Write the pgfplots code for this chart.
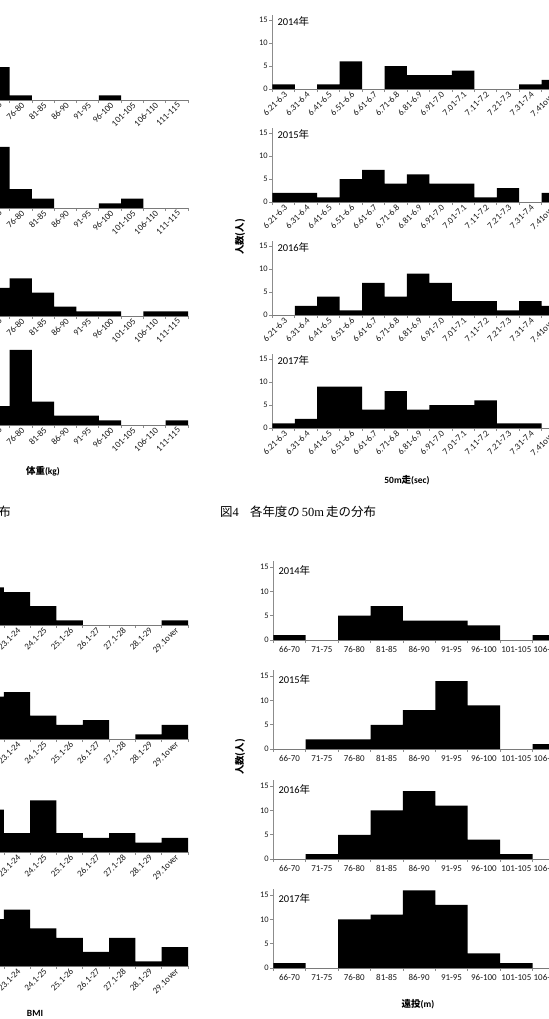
\documentclass[border=0pt]{standalone}
\usepackage{fontspec}
\setmainfont{Carlito}
\newfontfamily\cjk{Noto Sans CJK JP}
\newfontfamily\serifnum{Liberation Serif}
\usepackage{pgfplots}
\pgfplotsset{compat=1.18}

\definecolor{axgray}{gray}{0.55}

\tikzset{yearlab/.style={anchor=north west, inner sep=0pt, font=\fontsize{10.5}{11}\selectfont}}

\pgfplotsset{
  histo/.style={
    scale only axis,
    axis x line*=bottom, axis y line*=left,
    axis line style={draw=axgray, line width=0.7bp, -},
    tick style={draw=axgray, line width=0.7bp},
    tick align=outside, major tick length=3bp,
    ymin=0,
    xticklabels={},
    /pgf/number format/assume math mode=true,
    tick label style={text=black!90},
    yticklabel style={font=\fontsize{8.5}{9}\selectfont, inner sep=1.5bp},
    ytick={0,5,10,15},
  },
  rotlab/.style={
    extra x tick style={major tick length=0pt,
      xticklabel style={rotate=45, anchor=north east,
        font=\fontsize{9}{10}\selectfont, inner sep=1bp}},
  },
  flatlab/.style={
    extra x tick style={major tick length=0pt,
      xticklabel style={anchor=north,
        font=\fontsize{9}{10}\selectfont, inner sep=1bp, yshift=-5.5bp}},
  },
  % 50 m run bins
  runbins/.style={rotlab, width=291.8bp, height=73.6bp,
    xmin=0, xmax=13, ymax=16, xtick={0,...,13},
    extra x ticks={0.5,1.5,...,12.5},
    extra x tick labels={6.21-6.3,6.31-6.4,6.41-6.5,6.51-6.6,6.61-6.7,6.71-6.8,6.81-6.9,6.91-7.0,7.01-7.1,7.11-7.2,7.21-7.3,7.31-7.4,7.41over}},
  % throwing distance bins
  throwbins/.style={flatlab, width=291.6bp, height=78.6bp,
    xmin=0, xmax=9, ymax=16.2, xtick={0,...,9},
    extra x ticks={0.5,1.5,...,8.5},
    extra x tick labels={66-70,71-75,76-80,81-85,86-90,91-95,96-100,101-105,106-110}},
  % body weight bins
  wbins/.style={rotlab, width=290bp, height=79.9bp,
    xmin=-4, xmax=9, ymax=17, xtick={-4,...,9},
    extra x ticks={0.5,1.5,...,8.5},
    extra x tick labels={71-75,76-80,81-85,86-90,91-95,96-100,101-105,106-110,111-115}},
  % BMI bins
  bmibins/.style={rotlab, width=289.3bp, height=79.9bp,
    xmin=-3, xmax=8, ymax=17, xtick={-3,...,8},
    extra x ticks={0.5,1.5,...,7.5},
    extra x tick labels={22.1-23,23.1-24,24.1-25,25.1-26,26.1-27,27.1-28,28.1-29,29.1over}},
  bars/.style={const plot, fill=black, draw=none},
}

\newcommand{\yr}[1]{#1{\cjk 年}}

\begin{document}
\begin{tikzpicture}
\useasboundingbox (0,0) rectangle (549bp,-1019bp);
\clip (0,0) rectangle (549bp,-1019bp);

% ---------- body weight ----------
\begin{axis}[histo, wbins, at={(188bp,-100bp)}, anchor=south east]
\addplot[bars] coordinates {(0,7)(1,1)(2,0)(3,0)(4,0)(5,1)(6,0)(7,0)(8,0)(9,0)} \closedcycle;
\end{axis}
\begin{axis}[histo, wbins, at={(188bp,-208bp)}, anchor=south east]
\addplot[bars] coordinates {(0,13)(1,4)(2,2)(3,0)(4,0)(5,1)(6,2)(7,0)(8,0)(9,0)} \closedcycle;
\end{axis}
\begin{axis}[histo, wbins, at={(188bp,-316bp)}, anchor=south east]
\addplot[bars] coordinates {(0,6)(1,8)(2,5)(3,2)(4,1)(5,1)(6,0)(7,1)(8,1)(9,1)} \closedcycle;
\end{axis}
\begin{axis}[histo, wbins, at={(188bp,-425bp)}, anchor=south east]
\addplot[bars] coordinates {(0,4)(1,16)(2,5)(3,2)(4,2)(5,1)(6,0)(7,0)(8,1)(9,1)} \closedcycle;
\end{axis}

% ---------- BMI ----------
\begin{axis}[histo, bmibins, at={(188bp,-625bp)}, anchor=south east]
\addplot[bars] coordinates {(0,8)(1,7)(2,4)(3,1)(4,0)(5,0)(6,0)(7,1)(8,1)} \closedcycle;
\end{axis}
\begin{axis}[histo, bmibins, at={(188bp,-739bp)}, anchor=south east]
\addplot[bars] coordinates {(0,9)(1,10)(2,5)(3,3)(4,4)(5,0)(6,1)(7,3)(8,3)} \closedcycle;
\end{axis}
\begin{axis}[histo, bmibins, at={(188bp,-852bp)}, anchor=south east]
\addplot[bars] coordinates {(0,9)(1,4)(2,11)(3,4)(4,3)(5,4)(6,2)(7,3)(8,3)} \closedcycle;
\end{axis}
\begin{axis}[histo, bmibins, at={(188bp,-966bp)}, anchor=south east]
\addplot[bars] coordinates {(0,10)(1,12)(2,8)(3,6)(4,3)(5,6)(6,1)(7,4)(8,4)} \closedcycle;
\end{axis}

% ---------- 50 m run ----------
\begin{axis}[histo, runbins, at={(272.3bp,-89bp)}, anchor=south west]
\addplot[bars] coordinates {(0,1)(1,0)(2,1)(3,6)(4,0)(5,5)(6,3)(7,3)(8,4)(9,0)(10,0)(11,1)(12,2)(13,2)} \closedcycle;
\node[yearlab, xshift=5bp, yshift=-1bp] at (rel axis cs:0,1) {\yr{2014}};
\end{axis}
\begin{axis}[histo, runbins, at={(272.3bp,-202bp)}, anchor=south west]
\addplot[bars] coordinates {(0,2)(1,2)(2,1)(3,5)(4,7)(5,4)(6,6)(7,4)(8,4)(9,1)(10,3)(11,0)(12,2)(13,2)} \closedcycle;
\node[yearlab, xshift=5bp, yshift=-1bp] at (rel axis cs:0,1) {\yr{2015}};
\end{axis}
\begin{axis}[histo, runbins, at={(272.3bp,-315bp)}, anchor=south west]
\addplot[bars] coordinates {(0,0)(1,2)(2,4)(3,1)(4,7)(5,4)(6,9)(7,7)(8,3)(9,3)(10,1)(11,3)(12,2)(13,2)} \closedcycle;
\node[yearlab, xshift=5bp, yshift=-1bp] at (rel axis cs:0,1) {\yr{2016}};
\end{axis}
\begin{axis}[histo, runbins, at={(272.3bp,-428bp)}, anchor=south west]
\addplot[bars] coordinates {(0,1)(1,2)(2,9)(3,9)(4,4)(5,8)(6,4)(7,5)(8,5)(9,6)(10,1)(11,1)(12,0)(13,0)} \closedcycle;
\node[yearlab, xshift=5bp, yshift=-1bp] at (rel axis cs:0,1) {\yr{2017}};
\end{axis}

% ---------- throwing distance ----------
\begin{axis}[histo, throwbins, at={(273.3bp,-640bp)}, anchor=south west]
\addplot[bars] coordinates {(0,1)(1,0)(2,5)(3,7)(4,4)(5,4)(6,3)(7,0)(8,1)(9,1)} \closedcycle;
\node[yearlab, xshift=5bp, yshift=-4bp] at (rel axis cs:0,1) {\yr{2014}};
\end{axis}
\begin{axis}[histo, throwbins, at={(273.3bp,-749bp)}, anchor=south west]
\addplot[bars] coordinates {(0,0)(1,2)(2,2)(3,5)(4,8)(5,14)(6,9)(7,0)(8,1)(9,1)} \closedcycle;
\node[yearlab, xshift=5bp, yshift=-4bp] at (rel axis cs:0,1) {\yr{2015}};
\end{axis}
\begin{axis}[histo, throwbins, at={(273.3bp,-859bp)}, anchor=south west]
\addplot[bars] coordinates {(0,0)(1,1)(2,5)(3,10)(4,14)(5,11)(6,4)(7,1)(8,0)(9,0)} \closedcycle;
\node[yearlab, xshift=5bp, yshift=-4bp] at (rel axis cs:0,1) {\yr{2016}};
\end{axis}
\begin{axis}[histo, throwbins, at={(273.3bp,-968bp)}, anchor=south west]
\addplot[bars] coordinates {(0,1)(1,0)(2,10)(3,11)(4,16)(5,13)(6,3)(7,1)(8,0)(9,0)} \closedcycle;
\node[yearlab, xshift=5bp, yshift=-4bp] at (rel axis cs:0,1) {\yr{2017}};
\end{axis}

% ---------- axis titles and captions ----------
\begin{scope}[every node/.style={inner sep=0pt, font=\bfseries\fontsize{9.5}{10}\selectfont}]
\node at (43bp,-471bp) {{\cjk 体重}(kg)};
\node at (407bp,-480bp) {50m{\cjk 走}(sec)};
\node at (418bp,-1004bp) {{\cjk 遠投}(m)};
\node at (35bp,-1013bp) {BMI};
\node[rotate=90] at (240bp,-237bp) {\cjk 人数(人)};
\node[rotate=90] at (240bp,-757bp) {\cjk 人数(人)};
\end{scope}
\node[anchor=east, inner sep=0pt, font=\fontsize{12.5}{13}\selectfont] at (11bp,-512bp) {\cjk 布};
\node[anchor=west, inner sep=0pt, font=\fontsize{12.5}{13}\selectfont] at (220bp,-512bp)
  {{\cjk 図}{\serifnum 4}\hspace{0.9em}{\cjk 各年度の}\,{\serifnum 50m}\,{\cjk 走の分布}};
\end{tikzpicture}
\end{document}
